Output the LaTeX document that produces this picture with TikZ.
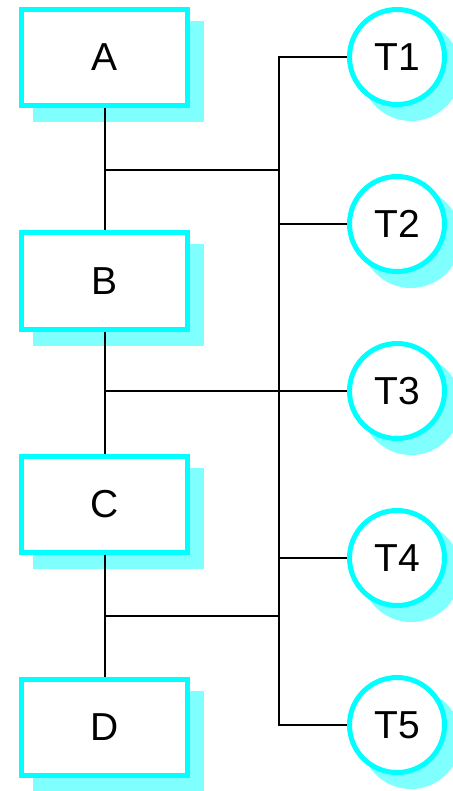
\documentclass[tikz,border=0pt]{standalone}
\usepackage{fontspec}
\setmainfont{Liberation Sans}
\usepackage{xcolor}
\usetikzlibrary{shadows}
\definecolor{aqua}{RGB}{0,255,255}
\definecolor{aquashade}{RGB}{128,255,255}

\begin{document}
\begin{tikzpicture}[x=1pt,y=-1pt,
        unit/.style={draw=aqua, line width=5pt, fill=white, rectangle,
            minimum width=166pt, minimum height=96pt, inner sep=0pt,
            font=\fontsize{39}{40}\selectfont,
            drop shadow={shadow xshift=14pt, shadow yshift=-14pt, opacity=1,
                fill=aquashade, draw=aquashade, line width=5pt}},
        task/.style={unit, circle, minimum size=95pt},
        wire/.style={line width=2pt, black}]
    \useasboundingbox (0,0) rectangle (452,791);
    % junctions on the left spine and the right trunk
    \coordinate (top) at (279,57);
    \coordinate (bot) at (279,725);
    \coordinate (jab) at (105,170);
    \coordinate (jbc) at (105,391);
    \coordinate (jcd) at (105,616);
    \node [unit] (A) at (104.5,57.5) {A};
    \node [unit] (B) at (104.5,281) {B};
    \node [unit] (C) at (104.5,504) {C};
    \node [unit] (D) at (104.5,727) {D};
    \node [task] (T1) at (397,57) {T1};
    \node [task] (T2) at (397,224) {T2};
    \node [task] (T3) at (397,391) {T3};
    \node [task] (T4) at (397,558) {T4};
    \node [task] (T5) at (397,725) {T5};
    \draw [wire] (A) -- (B);
    \draw [wire] (B) -- (C);
    \draw [wire] (C) -- (D);
    \draw [wire] (T1) -- (top) -- (bot) -- (T5);
    \draw [wire] (T2) -- (T2 -| top);
    \draw [wire] (T4) -- (T4 -| top);
    \draw [wire] (jab) -- (jab -| top);
    \draw [wire] (jbc) -- (T3);
    \draw [wire] (jcd) -- (jcd -| top);
\end{tikzpicture}
\end{document}
